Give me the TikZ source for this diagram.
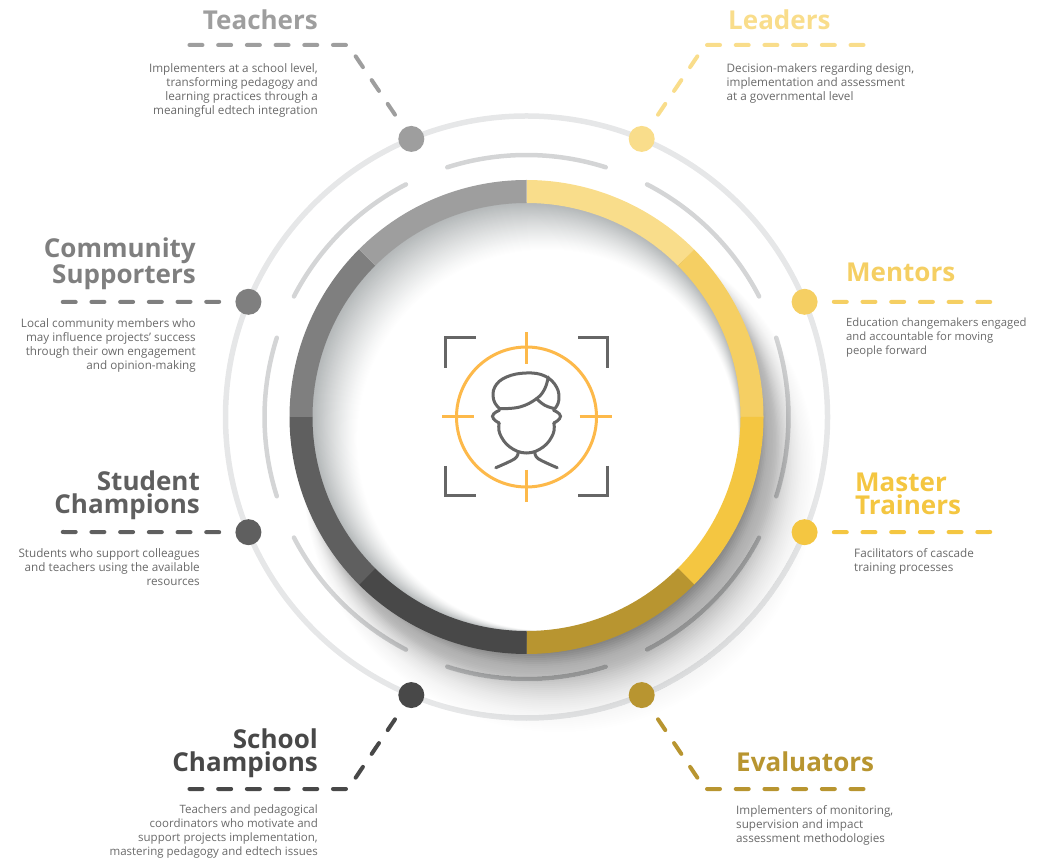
\documentclass[tikz,border=0pt]{standalone}
\usepackage{fontspec}
\setmainfont{Open Sans}
\definecolor{colTeachers}{HTML}{9E9E9E}
\definecolor{colCommunity}{HTML}{7F7F7F}
\definecolor{colStudent}{HTML}{5F5F5F}
\definecolor{colSchool}{HTML}{484848}
\definecolor{colLeaders}{HTML}{F9DD8B}
\definecolor{colMentors}{HTML}{F5CF63}
\definecolor{colMaster}{HTML}{F4C641}
\definecolor{colEvaluators}{HTML}{B89530}
\definecolor{colBody}{HTML}{6A6A6A}
\definecolor{colIcon}{HTML}{666666}
\definecolor{colTarget}{HTML}{FDB94A}
\definecolor{colInner}{HTML}{B4B8B9}
\tikzset{
  dotnode/.style={circle,inner sep=0pt,minimum size=26pt},
  dashline/.style={line width=4pt,line cap=round,line join=round,dash pattern=on 13pt off 15.7pt,shorten <=16pt},
  titleleft/.style={anchor=north west,inner sep=0pt,align=left,font=\fontsize{26}{23}\selectfont\bfseries},
  titleright/.style={anchor=north east,inner sep=0pt,align=right,font=\fontsize{26}{23}\selectfont\bfseries},
  bodyleft/.style={anchor=north west,inner sep=0pt,align=left,text=colBody,font=\fontsize{11.7}{14}\selectfont},
  bodyright/.style={anchor=north east,inner sep=0pt,align=right,text=colBody,font=\fontsize{11.7}{14}\selectfont},
  iconline/.style={colIcon,line width=3pt},
  targetline/.style={colTarget,line width=3pt}
}
\begin{document}
\begin{tikzpicture}[x=1pt,y=1pt]
  \useasboundingbox (0,0) rectangle (1040,859);
  \begin{scope}[shift={(526.5,442)}]
    % Outer ring and short arcs
    \draw[line width=5.5pt,color={rgb,255:red,230;green,231;blue,232}] (0,0) circle [radius=301];
    \foreach \a in {0,45,...,315}
      \draw[line width=4.5pt,line cap=round,color={rgb,255:red,212;green,213;blue,214}] (\a-17.6:262) arc (\a-17.6:\a+17.6:262);
    % Shadow below the ring
    \foreach \k in {0,...,60} {
      \pgfmathsetmacro\shadeT{\k/60}
      \pgfmathsetmacro\shadeA{0.05*(1-\shadeT)^2+0.0007}
      \fill[black,opacity=\shadeA] (40*\shadeT,-70*\shadeT) circle [radius=215+50*\shadeT];
    }
    % Shading inside the ring
    \begin{scope}
      \clip (0,0) circle [radius=215];
      \foreach \k in {0,...,48} {
        \pgfmathsetmacro\shadeT{\k/48}
        \pgfmathsetmacro\shadeP{100*(1-\shadeT)^1.2}
        \fill[colInner!\shadeP!white] (21*\shadeT,-23*\shadeT) circle [radius=214.5-24*\shadeT];
      }
    \end{scope}
    % Ring segments
    \foreach \a/\col in {45/colLeaders,0/colMentors,-45/colMaster,-90/colEvaluators,-135/colSchool,-180/colStudent,135/colCommunity,90/colTeachers}
      \fill[\col] (\a:237) arc (\a:\a+45:237) -- (\a+45:214) arc (\a+45:\a:214) -- cycle;
    % Dots
    \foreach \a/\name in {112.5/Teachers,67.5/Leaders,157.5/Community,22.5/Mentors,202.5/Student,-22.5/Master,247.5/School,-67.5/Evaluators}
      \node[dotnode,fill=col\name] (dot\name) at (\a:301) {};
    % Target
    \draw[targetline] (0,0) circle [radius=70];
    \foreach \a in {0,90,180,270}
      \draw[targetline] (\a:53) -- (\a:85);
    % Corners
    \draw[iconline] (-81.5,49) -- (-81.5,79) -- (-51,79);
    \draw[iconline] (81,49) -- (81,79) -- (51,79);
    \draw[iconline] (-81.5,-49) -- (-81.5,-79) -- (-51,-79);
    \draw[iconline] (81,-49) -- (81,-79) -- (51,-79);
    % Head
    \draw[iconline,line cap=round] plot[smooth,tension=.7] coordinates {(-26.7,8.3) (-32.7,16.7) (-31.7,30) (-20,40) (0,44) (18.3,41) (30,30) (32.3,16.7) (28.3,8.3)};
    \draw[iconline,line cap=round] plot[smooth,tension=.7] coordinates {(-26.7,8.3) (-6.7,10) (10,18.3) (18.3,28.3) (21.7,40)};
    \draw[iconline,line cap=round] plot[smooth,tension=.7] coordinates {(10,18.3) (18.3,11.7) (28.3,8.3)};
    \draw[iconline,line cap=round] plot[smooth,tension=1] coordinates {(-27,6.7) (-34,.7) (-27.3,-6)};
    \draw[iconline,line cap=round] plot[smooth,tension=1] coordinates {(27,6.7) (34,.7) (27.3,-6)};
    \draw[iconline,line cap=round] plot[smooth,tension=.7] coordinates {(-27.3,-6) (-26.7,-16.7) (-16.7,-30) (0,-36) (16.7,-30) (26.7,-16.7) (27.3,-6)};
    \draw[iconline,line cap=round] plot[smooth,tension=.6] coordinates {(-8.3,-35) (-11.7,-41.7) (-30.7,-50.7)};
    \draw[iconline,line cap=round] plot[smooth,tension=.6] coordinates {(8.3,-35) (11.7,-41.7) (30.7,-50.7)};
  \end{scope}
  % Connector ends
  \coordinate (kneeTeachers) at (348,814);
  \coordinate (endTeachers) at (188,814);
  \coordinate (kneeLeaders) at (705,814);
  \coordinate (endLeaders) at (865,814);
  \coordinate (kneeSchool) at (348,70);
  \coordinate (endSchool) at (188,70);
  \coordinate (kneeEvaluators) at (705,70);
  \coordinate (endEvaluators) at (865,70);
  \coordinate (endCommunity) at (61,557);
  \coordinate (endStudent) at (61,327);
  \coordinate (endMentors) at (992,557);
  \coordinate (endMaster) at (992,327);
  % Connectors
  \draw[dashline,colTeachers] (dotTeachers) -- (kneeTeachers) -- (endTeachers);
  \draw[dashline,colLeaders] (dotLeaders) -- (kneeLeaders) -- (endLeaders);
  \draw[dashline,colSchool] (dotSchool) -- (kneeSchool) -- (endSchool);
  \draw[dashline,colEvaluators] (dotEvaluators) -- (kneeEvaluators) -- (endEvaluators);
  \draw[dashline,colCommunity] (dotCommunity) -- (endCommunity);
  \draw[dashline,colStudent] (dotStudent) -- (endStudent);
  \draw[dashline,colMentors] (dotMentors) -- (endMentors);
  \draw[dashline,colMaster] (dotMaster) -- (endMaster);
  % Titles
  \node[titleright,text=colTeachers] (titleTeachers) at (318,849.5) {Teachers};
  \node[titleleft,text=colLeaders] (titleLeaders) at (728,849.5) {Leaders};
  \node[titleright,text=colCommunity] (titleCommunity) at (196,621.5) {Community\\Supporters};
  \node[titleleft,text=colMentors] (titleMentors) at (846,596) {Mentors};
  \node[titleright,text=colStudent] (titleStudent) at (200,388) {Student\\Champions};
  \node[titleleft,text=colMaster] (titleMaster) at (855,386) {Master\\Trainers};
  \node[titleright,text=colSchool] (titleSchool) at (318,130) {School\\Champions};
  \node[titleleft,text=colEvaluators] (titleEvaluators) at (736,107) {Evaluators};
  % Descriptions
  \node[bodyright] (textTeachers) at (318,796) {Implementers at a school level,\\transforming pedagogy and\\learning practices through a\\meaningful edtech integration};
  \node[bodyleft] (textLeaders) at (726.5,796) {Decision-makers regarding design,\\implementation and assessment\\at a governmental level};
  \node[bodyright] (textCommunity) at (196,541) {Local community members who\\may influence projects’ success\\through their own engagement\\and opinion-making};
  \node[bodyleft,font=\fontsize{11.3}{14}\selectfont] (textMentors) at (846,541) {Education changemakers engaged\\and accountable for moving\\people forward};
  \node[bodyright] (textStudent) at (200,311) {Students who support colleagues\\and teachers using the available\\resources};
  \node[bodyleft] (textMaster) at (854,311) {Facilitators of cascade\\training processes};
  \node[bodyright,font=\fontsize{11.5}{14}\selectfont] (textSchool) at (318,54) {Teachers and pedagogical\\coordinators who motivate and\\support projects implementation,\\mastering pedagogy and edtech issues};
  \node[bodyleft] (textEvaluators) at (736,54) {Implementers of monitoring,\\supervision and impact\\assessment methodologies};
\end{tikzpicture}
\end{document}
